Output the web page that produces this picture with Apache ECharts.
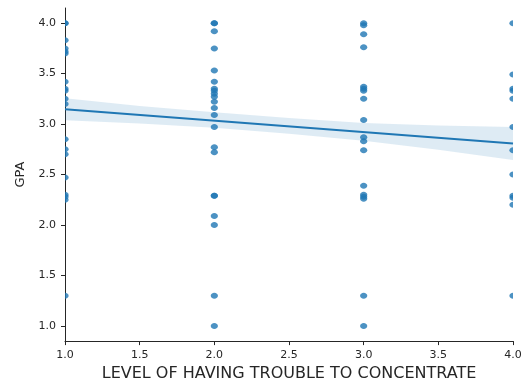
<!DOCTYPE html>
<html>
<head>
<meta charset="utf-8">
<script src="https://cdn.jsdelivr.net/npm/echarts@6/dist/echarts.min.js"></script>
<style>
  html, body { margin: 0; padding: 0; background: #fff; }
  #chart { width: 528px; height: 387px; }
</style>
</head>
<body>
<div id="chart"></div>
<script>
// Trouble-concentrating level (1-4) against GPA, with a linear fit and its 95% band.
const levels = [1, 2, 3, 4];
const gpaLevel1 = [4.0, 4.0, 3.83, 3.75, 3.72, 3.70, 3.42, 3.35, 3.33, 3.25, 3.20, 2.85, 2.75, 2.70, 2.47, 2.30, 2.28, 2.25, 1.30];
const gpaLevel2 = [4.0, 4.0, 3.92, 3.75, 3.53, 3.42, 3.35, 3.33, 3.30, 3.27, 3.22, 3.16, 3.09, 2.97, 2.77, 2.72, 2.29, 2.29, 2.09, 2.00, 1.30, 1.00];
const gpaLevel3 = [4.0, 3.98, 3.89, 3.76, 3.37, 3.35, 3.33, 3.25, 3.04, 2.87, 2.83, 2.74, 2.39, 2.30, 2.28, 2.26, 1.30, 1.00];
const gpaLevel4 = [4.0, 3.49, 3.35, 3.33, 3.25, 2.97, 2.74, 2.50, 2.29, 2.27, 2.20, 1.30];

// Regression line end points and confidence band edges
const fitX = [1, 4];
const fitGpa = [3.147, 2.808];
const bandX = [1, 1.5, 2, 2.5, 3, 3.5, 4];
const bandUpper = [3.257, 3.180, 3.116, 3.060, 3.010, 2.985, 2.971];
const bandLower = [3.039, 3.005, 2.964, 2.905, 2.835, 2.745, 2.645];

const xTicks = [1.0, 1.5, 2.0, 2.5, 3.0, 3.5, 4.0];
const yTicks = [1.0, 1.5, 2.0, 2.5, 3.0, 3.5, 4.0];

const blue = '#1f77b4';
const ink = '#262626';

const points = [];
[gpaLevel1, gpaLevel2, gpaLevel3, gpaLevel4].forEach((vals, i) => {
  vals.forEach(v => points.push([levels[i], v]));
});

const chart = echarts.init(document.getElementById('chart'), null, { renderer: 'canvas' });

const axisCommon = {
  type: 'value',
  axisLine: { show: true, lineStyle: { color: ink, width: 1 } },
  axisTick: { show: true, length: 4, lineStyle: { color: ink, width: 1 } },
  splitLine: { show: false },
  axisLabel: { color: ink, fontSize: 11, fontFamily: 'DejaVu Sans', formatter: v => v.toFixed(1) },
  nameTextStyle: { color: ink, fontSize: 13, fontFamily: 'DejaVu Sans' }
};

chart.setOption({
  animation: false,
  backgroundColor: '#ffffff',
  grid: { left: 65, right: 15, top: 8, bottom: 40, containLabel: false },
  xAxis: Object.assign({}, axisCommon, {
    min: 1, max: 4, interval: 0.5,
    axisLabel: Object.assign({}, axisCommon.axisLabel, { margin: 9, customValues: xTicks }),
    axisTick: Object.assign({}, axisCommon.axisTick, { customValues: xTicks }),
    name: 'LEVEL OF HAVING TROUBLE TO CONCENTRATE',
    nameLocation: 'middle', nameGap: 22,
    nameTextStyle: { color: ink, fontSize: 16, fontFamily: 'DejaVu Sans' }
  }),
  yAxis: Object.assign({}, axisCommon, {
    min: 0.85, max: 4.15,
    axisLabel: Object.assign({}, axisCommon.axisLabel, { margin: 9, customValues: yTicks }),
    axisTick: Object.assign({}, axisCommon.axisTick, { customValues: yTicks }),
    name: 'GPA',
    nameLocation: 'middle', nameGap: 36, nameRotate: 90
  }),
  series: [
    {
      // scatter drawn as clipped circles so edge points are cut at the axes
      type: 'custom',
      clip: true,
      z: 2,
      data: points,
      renderItem: (params, api) => {
        const p = api.coord([api.value(0), api.value(1)]);
        return {
          type: 'ellipse',
          shape: { cx: p[0], cy: p[1], rx: 3.6, ry: 3 },
          style: { fill: blue, opacity: 0.8 }
        };
      }
    },
    {
      // confidence band polygon: upper edge left to right, lower edge back
      type: 'custom',
      clip: true,
      z: 3,
      silent: true,
      data: bandX.map((x, i) => [x, bandLower[i], bandUpper[i]]),
      renderItem: (params, api) => {
        if (params.dataIndex !== 0) return null;
        const pts = [];
        bandX.forEach((x, i) => pts.push(api.coord([x, bandUpper[i]])));
        for (let i = bandX.length - 1; i >= 0; i--) pts.push(api.coord([bandX[i], bandLower[i]]));
        return {
          type: 'polygon',
          shape: { points: pts },
          style: { fill: 'rgba(31,119,180,0.15)' }
        };
      }
    },
    {
      type: 'line', z: 4,
      data: fitX.map((x, i) => [x, fitGpa[i]]),
      symbol: 'none',
      lineStyle: { color: blue, width: 2 }
    }
  ]
});
</script>
</body>
</html>
